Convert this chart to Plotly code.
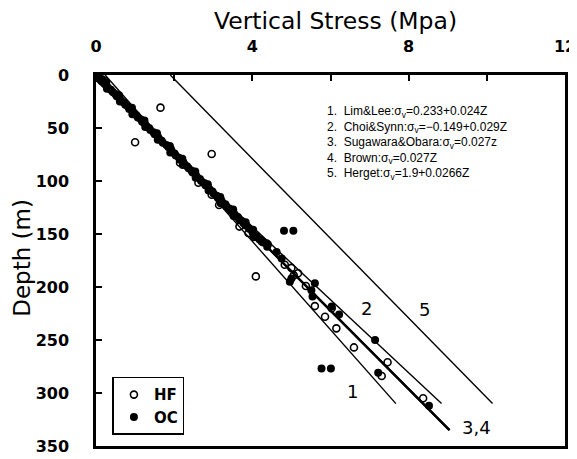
import plotly.graph_objects as go

# ---------------- data ----------------
# HF (hydraulic fracturing) measurements: depth (m), vertical stress (MPa)
hf_depth = [2.5, 4, 5.7, 30.8, 63.5, 74.5, 82.7, 101.6, 113, 122.6, 143, 149, 157, 159,
            179, 182, 187, 189, 190, 199, 218, 220, 228, 239, 257, 271, 284, 305]
hf_stress = [0.02, 0.15, 0.23, 1.65, 1.0, 2.96, 2.15, 2.62, 2.96, 3.15, 3.67, 3.9, 4.24, 4.37,
             4.83, 5.0, 5.17, 5.06, 4.09, 5.37, 5.6, 6.03, 5.86, 6.15, 6.6, 7.46, 7.31, 8.37]

# OC (overcoring) measurements: depth (m), vertical stress (MPa)
oc_depth = [2, 4, 6, 8, 10, 12, 14, 16, 18, 20, 22, 24, 26, 28, 30, 32, 34, 36, 38, 40,
            42, 44, 46, 48, 50, 52, 54, 56, 58, 60, 62, 64, 66, 68, 70, 72, 74, 76, 78, 80,
            82, 84, 86, 88, 90, 92, 94, 96, 98, 100, 102, 104, 106, 108, 110, 112, 114, 116,
            118, 120, 122, 124, 126, 128, 130, 132, 134, 136, 138, 140, 142, 145, 148, 152,
            155, 158, 162,
            7, 13, 19, 25, 31, 37, 43, 49, 55, 61, 67, 73, 79, 85, 91, 97, 103, 109, 115,
            121, 127, 133, 139, 146, 153, 160,
            147, 147, 277, 277, 167, 173, 195, 192, 196.5, 203, 209, 218.5, 226, 250, 281, 312]
oc_stress = [0.06, 0.12, 0.15, 0.22, 0.27, 0.31, 0.38, 0.43, 0.50, 0.53, 0.60, 0.64, 0.71,
             0.75, 0.82, 0.85, 0.93, 0.96, 1.03, 1.07, 1.15, 1.18, 1.25, 1.29, 1.36, 1.39,
             1.47, 1.50, 1.58, 1.61, 1.68, 1.71, 1.80, 1.85, 1.92, 1.94, 2.01, 2.04, 2.12,
             2.15, 2.23, 2.26, 2.33, 2.37, 2.44, 2.47, 2.55, 2.58, 2.66, 2.69, 2.77, 2.80,
             2.87, 2.91, 2.98, 3.01, 3.09, 3.12, 3.20, 3.23, 3.31, 3.34, 3.41, 3.45, 3.52,
             3.55, 3.63, 3.66, 3.74, 3.78, 3.83, 3.92, 4.00, 4.10, 4.18, 4.28, 4.38,
             0.26, 0.28, 0.59, 0.61, 0.92, 0.93, 1.24, 1.26, 1.56, 1.58, 1.89, 1.90, 2.21,
             2.22, 2.54, 2.55, 2.86, 2.88, 3.18, 3.19, 3.51, 3.52, 3.83, 4.02, 4.04, 4.40,
             4.81, 5.05, 5.77, 6.01, 4.62, 4.75, 4.96, 5.0, 5.6, 5.51, 5.54, 6.03, 6.22,
             7.14, 7.22, 8.52]

# Regression lines sigma_v = a + b*Z
line_names = ["1", "2", "3", "4", "5"]
line_intercept = [0.233, -0.149, 0.0, 0.0, 1.9]
line_slope = [0.024, 0.029, 0.027, 0.027, 0.0266]
line_z_end = [310, 310, 335, 335, 310]
line_label = ["1", "2", "", "3,4", "5"]
label_depth = [299, 220, None, 333, 221]
label_stress = [6.57, 6.93, None, 9.74, 8.41]

equations = [
    "1.  Lim&Lee:σ<sub>v</sub>=0.233+0.024Z",
    "2.  Choi&Synn:σ<sub>v</sub>=−0.149+0.029Z",
    "3.  Sugawara&Obara:σ<sub>v</sub>=0.027z",
    "4.  Brown:σ<sub>v</sub>=0.027Z",
    "5.  Herget:σ<sub>v</sub>=1.9+0.0266Z",
]

x_ticks = [0, 2, 4, 6, 8, 10, 12]
x_ticktext = ["0", "", "4", "", "8", "", "12"]
y_ticks = [0, 50, 100, 150, 200, 250, 300, 350]

# ---------------- figure ----------------
fig = go.Figure()

for i in range(len(line_names)):
    a, b = line_intercept[i], line_slope[i]
    z0 = max(0.0, -a / b)
    z1 = line_z_end[i]
    fig.add_trace(go.Scatter(
        x=[a + b * z0, a + b * z1], y=[z0, z1], mode="lines",
        line=dict(color="black", width=2.2 if line_names[i] in ("3", "4") else 1.4),
        showlegend=False, hoverinfo="skip"))

fig.add_trace(go.Scatter(
    x=hf_stress, y=hf_depth, mode="markers", name="HF",
    marker=dict(symbol="circle-open", size=7, color="black", line=dict(width=1.6))))
fig.add_trace(go.Scatter(
    x=oc_stress, y=oc_depth, mode="markers", name="OC",
    marker=dict(symbol="circle", size=8, color="black")))

font_main = "DejaVu Sans"

for i in range(len(line_label)):
    if line_label[i]:
        fig.add_annotation(x=label_stress[i], y=label_depth[i], text=line_label[i],
                           showarrow=False, font=dict(family=font_main, size=18, color="black"))

fig.add_annotation(x=5.86, y=25.5, xref="x", yref="y", xanchor="left", yanchor="top",
                   align="left", showarrow=False, text="<br>".join(equations),
                   font=dict(family="Liberation Sans", size=12, color="black"))

fig.add_annotation(x=0.51, y=1.146, xref="paper", yref="paper", showarrow=False,
                   xanchor="center", yanchor="middle", borderpad=0,
                   text="Vertical Stress (Mpa)",
                   font=dict(family=font_main, size=23.5, color="black"))
fig.add_annotation(x=-0.158, y=0.507, xref="paper", yref="paper", showarrow=False,
                   xanchor="center", yanchor="middle",
                   text="Depth (m)", textangle=-90,
                   font=dict(family=font_main, size=23, color="black"))

# the page body has an 8px margin, so the figure is drawn 8px smaller and offset
fig.update_layout(
    width=569, height=451,
    margin=dict(l=88, r=12, t=67, b=13, autoexpand=False),
    paper_bgcolor="white", plot_bgcolor="white",
    showlegend=True,
    legend=dict(x=0.035, y=0.03, xanchor="left", yanchor="bottom",
                bordercolor="black", borderwidth=1.5, bgcolor="white",
                font=dict(family=font_main, size=15, color="black", weight="bold"),
                itemwidth=30, tracegroupgap=0),
)
fig.update_xaxes(range=[0, 12], side="top", tickvals=x_ticks, ticktext=x_ticktext,
                 ticks="inside", ticklen=6, tickwidth=1.5, tickcolor="black",
                 showline=True, linecolor="black", linewidth=2.5, mirror=True,
                 showgrid=False, zeroline=False, ticklabelstandoff=14, automargin=False,
                 tickfont=dict(family=font_main, size=16, color="black", weight="bold"))
fig.update_yaxes(range=[350, 0], tickvals=y_ticks,
                 ticks="inside", ticklen=6, tickwidth=1.5, tickcolor="black",
                 showline=True, linecolor="black", linewidth=2.5, mirror=True,
                 showgrid=False, zeroline=False, ticklabelstandoff=21, automargin=False,
                 tickfont=dict(family=font_main, size=16, color="black", weight="bold"))

fig.write_html("out.html")
